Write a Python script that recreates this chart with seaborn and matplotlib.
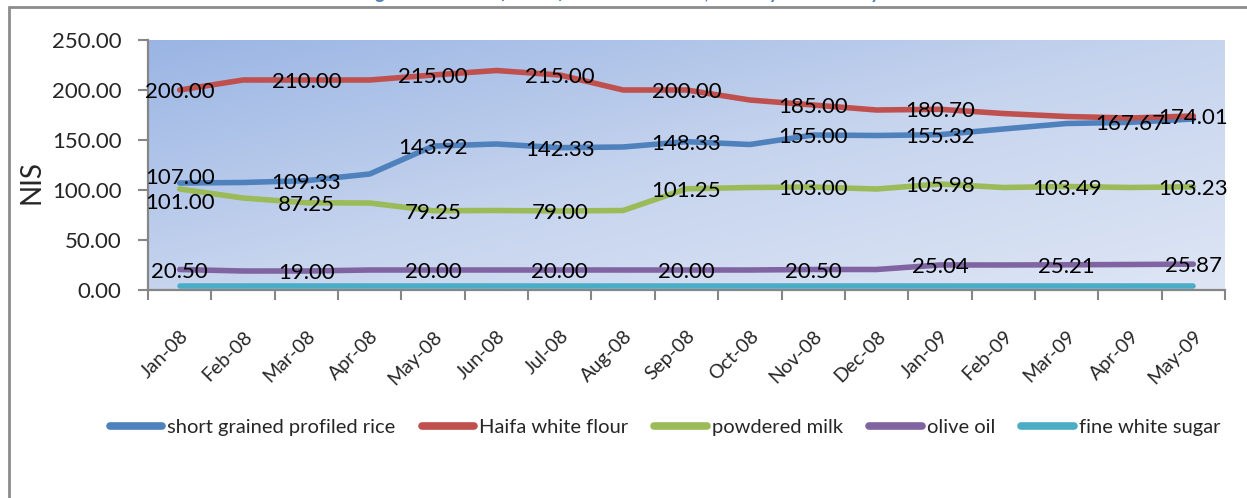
import numpy as np
import pandas as pd
import matplotlib
matplotlib.use("Agg")
import matplotlib.pyplot as plt
from matplotlib.lines import Line2D
from matplotlib.colors import LinearSegmentedColormap
import seaborn as sns

# ---- data (NIS) ----
months = ["Jan-08", "Feb-08", "Mar-08", "Apr-08", "May-08", "Jun-08", "Jul-08",
          "Aug-08", "Sep-08", "Oct-08", "Nov-08", "Dec-08", "Jan-09", "Feb-09",
          "Mar-09", "Apr-09", "May-09"]

rice = [107.00, 107.5, 109.33, 116.0, 143.92, 146.0, 142.33, 143.0, 148.33,
        145.5, 155.00, 154.5, 155.32, 161.0, 166.5, 167.67, 171.0]
flour = [200.00, 210.0, 210.00, 210.0, 215.00, 219.5, 215.00, 200.0, 200.00,
         190.0, 185.00, 180.0, 180.70, 176.5, 173.5, 172.0, 174.01]
milk = [101.00, 92.0, 87.25, 87.0, 79.25, 79.5, 79.00, 79.5, 101.25,
        102.5, 103.00, 101.0, 105.98, 102.5, 103.49, 102.5, 103.23]
olive_oil = [20.50, 19.0, 19.00, 20.0, 20.00, 20.0, 20.00, 20.0, 20.00,
             20.0, 20.50, 20.5, 25.04, 25.0, 25.21, 25.5, 25.87]
sugar = [4.0] * 17

series_names = ["short grained profiled rice", "Haifa white flour",
                "powdered milk", "olive oil", "fine white sugar"]
series_values = [rice, flour, milk, olive_oil, sugar]
series_colors = ["#4F81BD", "#C0504D", "#9BBB59", "#8064A2", "#4BACC6"]

# months carrying a value label, per series
label_idx = {
    "short grained profiled rice": [0, 2, 4, 6, 8, 10, 12, 15],
    "Haifa white flour": [0, 2, 4, 6, 8, 10, 12, 16],
    "powdered milk": [0, 2, 4, 6, 8, 10, 12, 14, 16],
    "olive oil": [0, 2, 4, 6, 8, 10, 12, 14, 16],
    "fine white sugar": [],
}
# nudges (pixels) for labels that would sit on top of each other
label_shift = {("short grained profiled rice", 0): 7, ("powdered milk", 0): -12}

df = pd.DataFrame({
    "idx": np.tile(np.arange(len(months)), len(series_names)),
    "month": months * len(series_names),
    "item": np.repeat(series_names, len(months)),
    "price": np.concatenate(series_values),
})

# ---- styling ----
sns.set_theme(style="white")
plt.rcParams["font.family"] = ["Lato", "DejaVu Sans"]

W, H = 1247, 498
fig = plt.figure(figsize=(W / 100, H / 100), dpi=100)
ax = fig.add_axes([148 / W, 1 - 290 / H, (1225 - 148) / W, 250 / H])

# soft diagonal blue gradient behind the plot
u, v = np.meshgrid(np.linspace(0, 1, 400), np.linspace(1, 0, 200))
t = (u + (1 - v)) / 2
grad_cmap = LinearSegmentedColormap.from_list("bg", ["#9AB5E4", "#C6D4EE", "#DEE6F5"])
ax.imshow(t, cmap=grad_cmap, extent=(0, 1, 0, 1), transform=ax.transAxes,
          aspect="auto", zorder=0, interpolation="bilinear")

sns.lineplot(data=df, x="idx", y="price", hue="item", hue_order=series_names,
             palette=series_colors, linewidth=4.0, sort=False, ax=ax, zorder=3)
for ln in ax.get_lines():
    ln.set_solid_capstyle("round")
    ln.set_solid_joinstyle("round")

ax.set_xlim(-0.5, len(months) - 0.5)
ax.set_ylim(0, 250)

# value labels
for name, vals in zip(series_names, series_values):
    for i in label_idx[name]:
        dy = label_shift.get((name, i), 0)
        ax.annotate(f"{vals[i]:.2f}", xy=(i, vals[i]), xytext=(0, dy - 8),
                    textcoords="offset pixels", ha="center", va="baseline",
                    fontsize=16, color="black", zorder=5)

# axes, ticks
axis_gray = "#868686"
for side in ("top", "right"):
    ax.spines[side].set_visible(False)
for side in ("left", "bottom"):
    ax.spines[side].set_color(axis_gray)
    ax.spines[side].set_linewidth(1.6)
    ax.spines[side].set_zorder(4)

ax.set_yticks(np.arange(0, 251, 50))
ax.set_yticklabels([f"{y:.2f}" for y in np.arange(0, 251, 50)])
ax.tick_params(axis="y", direction="out", length=7, width=1.5, color=axis_gray,
               labelsize=16, pad=12, left=True)

ax.set_xticks(np.arange(len(months)))
ax.set_xticklabels(months, rotation=45, ha="right", rotation_mode="anchor",
                   fontsize=14)
ax.tick_params(axis="x", which="major", length=0, pad=27, bottom=True)
ax.set_xticks(np.arange(-0.5, len(months), 1.0), minor=True)
ax.tick_params(axis="x", which="minor", direction="out", length=7, width=1.5,
               color=axis_gray, bottom=True)

ax.set_xlabel("")
ax.set_ylabel("NIS", fontsize=20, labelpad=2)
ax.yaxis.set_label_coords(-103 / (1225 - 148), 0.43)

# legend below the plot
handles, labels = ax.get_legend_handles_labels()
for h in handles:
    h.set_linewidth(5.5)
    h.set_solid_capstyle("round")
ax.legend(handles, labels, loc="center", bbox_to_anchor=(665 / W, 1 - 427 / H),
          bbox_transform=fig.transFigure, ncol=5, frameon=False, fontsize=14.5,
          handlelength=2.6, handletextpad=0.25, columnspacing=1.3)

# chart frame
frame_kw = dict(color="#8C8C8C", linewidth=2, transform=fig.transFigure)
fig.add_artist(Line2D([9 / W, 1], [1 - 7 / H, 1 - 7 / H], **frame_kw))
fig.add_artist(Line2D([9 / W, 9 / W], [0, 1 - 7 / H], **frame_kw))

# caption sitting above the chart
fig.text(646 / W, 1 + 1 / H,
         "Figure 5: Prices of basic food commodities, January 2008 - May 2009",
         ha="center", va="baseline", fontsize=14, color="#4F81BD",
         fontweight="bold", fontstyle="italic")

fig.savefig("out.png", dpi=100)
